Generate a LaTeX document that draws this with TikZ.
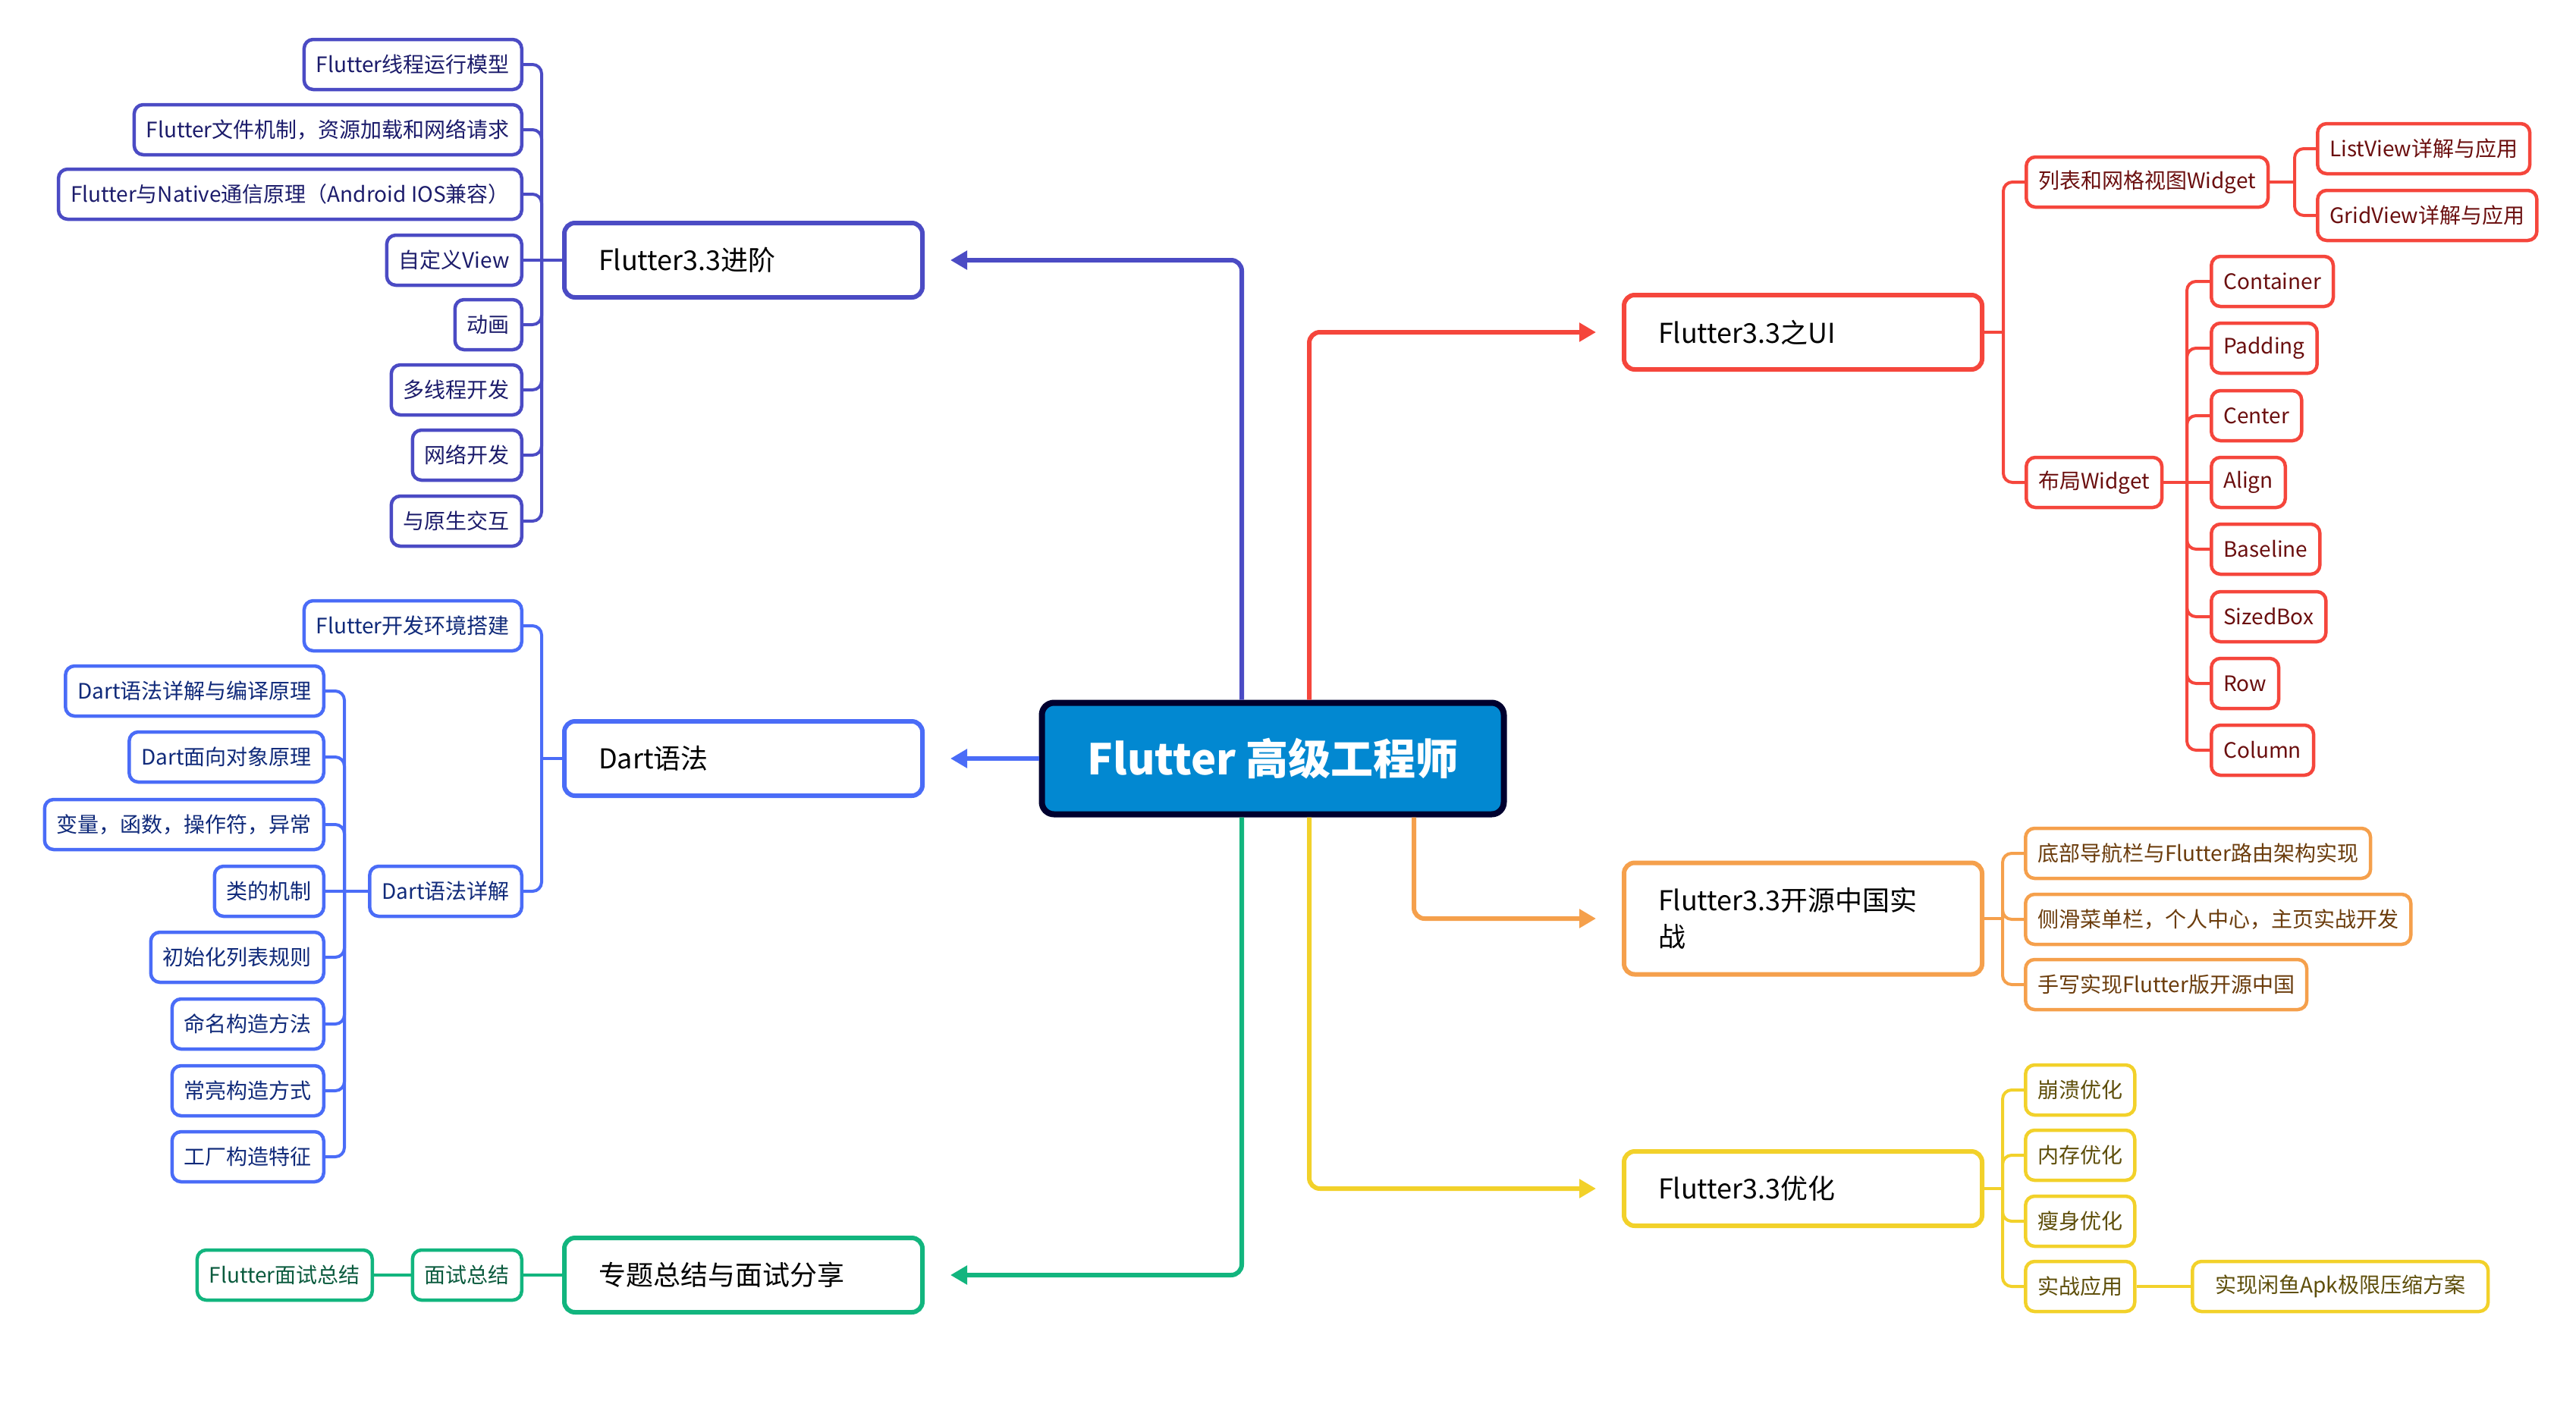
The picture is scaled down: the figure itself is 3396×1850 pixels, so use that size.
\documentclass[tikz,border=0pt]{standalone}
\usepackage{fontspec}
\setmainfont{Noto Sans CJK SC}
\usetikzlibrary{arrows.meta}

\definecolor{rootC}{HTML}{0288D1}
\definecolor{rootL}{HTML}{00002E}
\definecolor{advC}{HTML}{4B4BC4}
\definecolor{advT}{HTML}{1C1C6B}
\definecolor{dartC}{HTML}{4A6CF7}
\definecolor{dartT}{HTML}{102A7A}
\definecolor{talkC}{HTML}{12B57E}
\definecolor{talkT}{HTML}{0B5B3E}
\definecolor{uiC}{HTML}{F5463C}
\definecolor{uiT}{HTML}{6B0F0F}
\definecolor{oscC}{HTML}{F5A04C}
\definecolor{oscT}{HTML}{6B3C0C}
\definecolor{optC}{HTML}{F2D12A}
\definecolor{optT}{HTML}{5E4E0A}

\tikzset{
  rootbox/.style={draw=rootL, fill=rootC, line width=8, rounded corners=16,
    minimum width=609, minimum height=147, text=white,
    font=\fontsize{56}{64}\selectfont\bfseries},
  topicbox/.style={draw=#1, fill=white, line width=6, rounded corners=14,
    minimum height=98, inner xsep=45, text width=382, align=left,
    font=\fontsize{36}{48}\selectfont},
  leafbox/.style 2 args={draw=#1, text=#2, fill=white, line width=4.5,
    rounded corners=12, minimum height=66, inner xsep=16,
    font=\fontsize{28}{32}\selectfont},
  mainline/.style={draw=#1, line width=6, rounded corners=14,
    -{Triangle[length=22,width=24]}, shorten >=34},
  stubline/.style={draw=#1, line width=4},
  twigline/.style={draw=#1, line width=4, rounded corners=12},
}

\begin{document}
\begin{tikzpicture}[x=1pt,y=-1pt]
    \useasboundingbox (0,0) rectangle (3396,1850);

    % centre and main topics
    \node[rootbox] (root) at (1678,1000) {Flutter 高级工程师};

    \node[topicbox=advC] (adv) at (980,343) {Flutter3.3进阶};
    \node[topicbox=dartC] (dart) at (980,1000) {Dart语法};
    \node[topicbox=talkC] (talk) at (980,1681) {专题总结与面试分享};
    \node[topicbox=uiC] (ui) at (2377,438) {Flutter3.3之UI};
    \node[topicbox=oscC, minimum height=147] (osc) at (2377,1211) {Flutter3.3开源中国实\\战};
    \node[topicbox=optC] (opt) at (2377,1567) {Flutter3.3优化};

    \draw[mainline=advC] ([xshift=-41pt]root.north) |- (adv.east);
    \draw[mainline=dartC] (root.west) -- (dart.east);
    \draw[mainline=talkC] ([xshift=-41pt]root.south) |- (talk.east);
    \draw[mainline=uiC] ([xshift=48pt]root.north) |- (ui.west);
    \draw[mainline=oscC] ([xshift=186pt]root.south) |- (osc.west);
    \draw[mainline=optC] ([xshift=48pt]root.south) |- (opt.west);

    % Flutter3.3进阶
    \node[leafbox={advC}{advT}, anchor=east] (a1) at (690,85) {Flutter线程运行模型};
    \node[leafbox={advC}{advT}, anchor=east] (a2) at (690,171) {Flutter文件机制，资源加载和网络请求};
    \node[leafbox={advC}{advT}, anchor=east] (a3) at (690,256) {Flutter与Native通信原理（Android IOS兼容）};
    \node[leafbox={advC}{advT}, anchor=east] (a4) at (690,343) {自定义View};
    \node[leafbox={advC}{advT}, anchor=east] (a5) at (690,428) {动画};
    \node[leafbox={advC}{advT}, anchor=east] (a6) at (690,514) {多线程开发};
    \node[leafbox={advC}{advT}, anchor=east] (a7) at (690,600) {网络开发};
    \node[leafbox={advC}{advT}, anchor=east] (a8) at (690,687) {与原生交互};

    \coordinate (jAdv) at (714,343);
    \draw[stubline=advC] (adv.west) -- (jAdv);
    \draw[twigline=advC] (jAdv) |- (a1.east);
    \draw[twigline=advC] (jAdv) |- (a2.east);
    \draw[twigline=advC] (jAdv) |- (a3.east);
    \draw[twigline=advC] (jAdv) -- (a4.east);
    \draw[twigline=advC] (jAdv) |- (a5.east);
    \draw[twigline=advC] (jAdv) |- (a6.east);
    \draw[twigline=advC] (jAdv) |- (a7.east);
    \draw[twigline=advC] (jAdv) |- (a8.east);

    % Dart语法
    \node[leafbox={dartC}{dartT}, anchor=east] (d1) at (690,825) {Flutter开发环境搭建};
    \node[leafbox={dartC}{dartT}, anchor=east] (d2) at (690,1175) {Dart语法详解};

    \coordinate (jDart) at (714,1000);
    \draw[stubline=dartC] (dart.west) -- (jDart);
    \draw[twigline=dartC] (jDart) |- (d1.east);
    \draw[twigline=dartC] (jDart) |- (d2.east);

    \node[leafbox={dartC}{dartT}, anchor=east] (e1) at (429,911) {Dart语法详解与编译原理};
    \node[leafbox={dartC}{dartT}, anchor=east] (e2) at (429,998) {Dart面向对象原理};
    \node[leafbox={dartC}{dartT}, anchor=east] (e3) at (429,1087) {变量，函数，操作符，异常};
    \node[leafbox={dartC}{dartT}, anchor=east] (e4) at (429,1175) {类的机制};
    \node[leafbox={dartC}{dartT}, anchor=east] (e5) at (429,1262) {初始化列表规则};
    \node[leafbox={dartC}{dartT}, anchor=east] (e6) at (429,1350) {命名构造方法};
    \node[leafbox={dartC}{dartT}, anchor=east] (e7) at (429,1438) {常亮构造方式};
    \node[leafbox={dartC}{dartT}, anchor=east] (e8) at (429,1525) {工厂构造特征};

    \coordinate (jSyn) at (454,1175);
    \draw[stubline=dartC] (d2.west) -- (jSyn);
    \draw[twigline=dartC] (jSyn) |- (e1.east);
    \draw[twigline=dartC] (jSyn) |- (e2.east);
    \draw[twigline=dartC] (jSyn) |- (e3.east);
    \draw[twigline=dartC] (jSyn) -- (e4.east);
    \draw[twigline=dartC] (jSyn) |- (e5.east);
    \draw[twigline=dartC] (jSyn) |- (e6.east);
    \draw[twigline=dartC] (jSyn) |- (e7.east);
    \draw[twigline=dartC] (jSyn) |- (e8.east);

    % 专题总结与面试分享
    \node[leafbox={talkC}{talkT}, anchor=east] (t1) at (690,1681) {面试总结};
    \node[leafbox={talkC}{talkT}, anchor=east] (t2) at (493,1681) {Flutter面试总结};
    \draw[stubline=talkC] (talk.west) -- (t1.east);
    \draw[stubline=talkC] (t1.west) -- (t2.east);

    % Flutter3.3之UI
    \node[leafbox={uiC}{uiT}, anchor=west] (u1) at (2669,240) {列表和网格视图Widget};
    \node[leafbox={uiC}{uiT}, anchor=west] (u2) at (2669,636) {布局Widget};

    \coordinate (jUi) at (2641,438);
    \draw[stubline=uiC] (ui.east) -- (jUi);
    \draw[twigline=uiC] (jUi) |- (u1.west);
    \draw[twigline=uiC] (jUi) |- (u2.west);

    \node[leafbox={uiC}{uiT}, anchor=west] (l1) at (3053,196) {ListView详解与应用};
    \node[leafbox={uiC}{uiT}, anchor=west] (l2) at (3053,284) {GridView详解与应用};

    \coordinate (jList) at (3025,240);
    \draw[stubline=uiC] (u1.east) -- (jList);
    \draw[twigline=uiC] (jList) |- (l1.west);
    \draw[twigline=uiC] (jList) |- (l2.west);

    \node[leafbox={uiC}{uiT}, anchor=west] (w1) at (2913,371) {Container};
    \node[leafbox={uiC}{uiT}, anchor=west] (w2) at (2913,459) {Padding};
    \node[leafbox={uiC}{uiT}, anchor=west] (w3) at (2913,548) {Center};
    \node[leafbox={uiC}{uiT}, anchor=west] (w4) at (2913,636) {Align};
    \node[leafbox={uiC}{uiT}, anchor=west] (w5) at (2913,724) {Baseline};
    \node[leafbox={uiC}{uiT}, anchor=west] (w6) at (2913,813) {SizedBox};
    \node[leafbox={uiC}{uiT}, anchor=west] (w7) at (2913,901) {Row};
    \node[leafbox={uiC}{uiT}, anchor=west] (w8) at (2913,989) {Column};

    \coordinate (jLay) at (2883,636);
    \draw[stubline=uiC] (u2.east) -- (jLay);
    \draw[twigline=uiC] (jLay) |- (w1.west);
    \draw[twigline=uiC] (jLay) |- (w2.west);
    \draw[twigline=uiC] (jLay) |- (w3.west);
    \draw[twigline=uiC] (jLay) -- (w4.west);
    \draw[twigline=uiC] (jLay) |- (w5.west);
    \draw[twigline=uiC] (jLay) |- (w6.west);
    \draw[twigline=uiC] (jLay) |- (w7.west);
    \draw[twigline=uiC] (jLay) |- (w8.west);

    % Flutter3.3开源中国实战
    \node[leafbox={oscC}{oscT}, anchor=west] (o1) at (2668,1125) {底部导航栏与Flutter路由架构实现};
    \node[leafbox={oscC}{oscT}, anchor=west] (o2) at (2668,1212) {侧滑菜单栏，个人中心，主页实战开发};
    \node[leafbox={oscC}{oscT}, anchor=west] (o3) at (2668,1298) {手写实现Flutter版开源中国};

    \coordinate (jOsc) at (2640,1211);
    \draw[stubline=oscC] (osc.east) -- (jOsc);
    \draw[twigline=oscC] (jOsc) |- (o1.west);
    \draw[twigline=oscC] (jOsc) |- (o2.west);
    \draw[twigline=oscC] (jOsc) |- (o3.west);

    % Flutter3.3优化
    \node[leafbox={optC}{optT}, anchor=west] (p1) at (2668,1437) {崩溃优化};
    \node[leafbox={optC}{optT}, anchor=west] (p2) at (2668,1523) {内存优化};
    \node[leafbox={optC}{optT}, anchor=west] (p3) at (2668,1610) {瘦身优化};
    \node[leafbox={optC}{optT}, anchor=west] (p4) at (2668,1696) {实战应用};
    \node[leafbox={optC}{optT}, anchor=west, inner xsep=30] (q1) at (2888,1696) {实现闲鱼Apk极限压缩方案};

    \coordinate (jOpt) at (2640,1567);
    \draw[stubline=optC] (opt.east) -- (jOpt);
    \draw[twigline=optC] (jOpt) |- (p1.west);
    \draw[twigline=optC] (jOpt) |- (p2.west);
    \draw[twigline=optC] (jOpt) |- (p3.west);
    \draw[twigline=optC] (jOpt) |- (p4.west);
    \draw[stubline=optC] (p4.east) -- (q1.west);
\end{tikzpicture}
\end{document}
